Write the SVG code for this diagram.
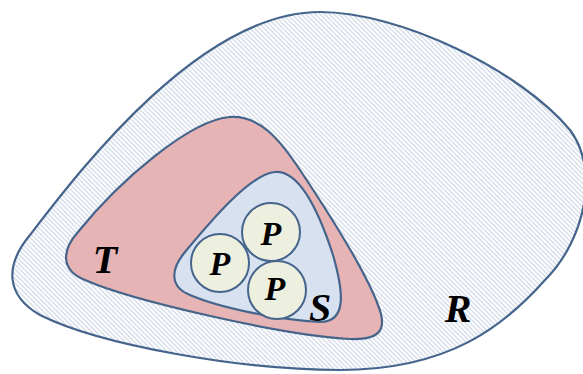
<svg xmlns="http://www.w3.org/2000/svg" width="583" height="374" viewBox="0 0 583 374">
  <defs>
    <pattern id="hatch" patternUnits="userSpaceOnUse" width="6" height="3.3" patternTransform="rotate(45)">
      <rect width="6" height="3.3" fill="#ffffff"/>
      <line x1="0" y1="1.6" x2="6" y2="1.6" stroke="#c4cfe0" stroke-width="1"/>
    </pattern>
    <style>
      .region { stroke: #45648b; stroke-width: 2.2; stroke-linejoin: round; }
      .circ { fill: #eef0df; stroke: #45648b; stroke-width: 2; }
      .lbl { font-family: "Liberation Serif", "Times New Roman", serif; font-weight: bold; font-style: italic; fill: #000; text-anchor: middle; }
      .big { font-size: 40px; }
      .p { font-size: 34px; }
    </style>
  </defs>
  <rect width="583" height="374" fill="#ffffff"/>
  <g id="R">
    <path class="region" fill="url(#hatch)" d="M 320 12 C 400 12, 520 70, 570 130 C 600 170, 585 240, 545 280 C 505 325, 450 370, 340 370 C 240 370, 100 345, 40 315 C 5 295, 5 265, 30 235 C 80 170, 200 12, 320 12 Z"/>
    <text class="lbl big" x="458" y="322">R</text>
  </g>
  <g id="T">
    <path class="region" fill="#e6b4b5" d="M 230 117 C 260 115, 280 140, 300 170 C 330 215, 365 270, 378 305 C 388 330, 380 340, 350 339 C 280 335, 130 300, 85 280 C 60 270, 62 250, 78 232 C 120 180, 190 120, 230 117 Z"/>
    <text class="lbl big" x="105" y="273">T</text>
  </g>
  <g id="S">
    <path class="region" fill="#d7e1f0" d="M 275 172 C 300 170, 320 215, 333 255 C 343 290, 348 322, 320 322 C 280 320, 220 308, 190 295 C 170 287, 170 270, 185 252 C 210 222, 250 174, 275 172 Z"/>
    <text class="lbl big" x="320" y="321">S</text>
  </g>
  <g id="P1">
    <circle class="circ" cx="271" cy="232" r="29"/>
    <text class="lbl p" x="271" y="245">P</text>
  </g>
  <g id="P2">
    <circle class="circ" cx="220" cy="263" r="29"/>
    <text class="lbl p" x="220" y="275">P</text>
  </g>
  <g id="P3">
    <circle class="circ" cx="277" cy="290" r="29"/>
    <text class="lbl p" x="275" y="300">P</text>
  </g>
</svg>
